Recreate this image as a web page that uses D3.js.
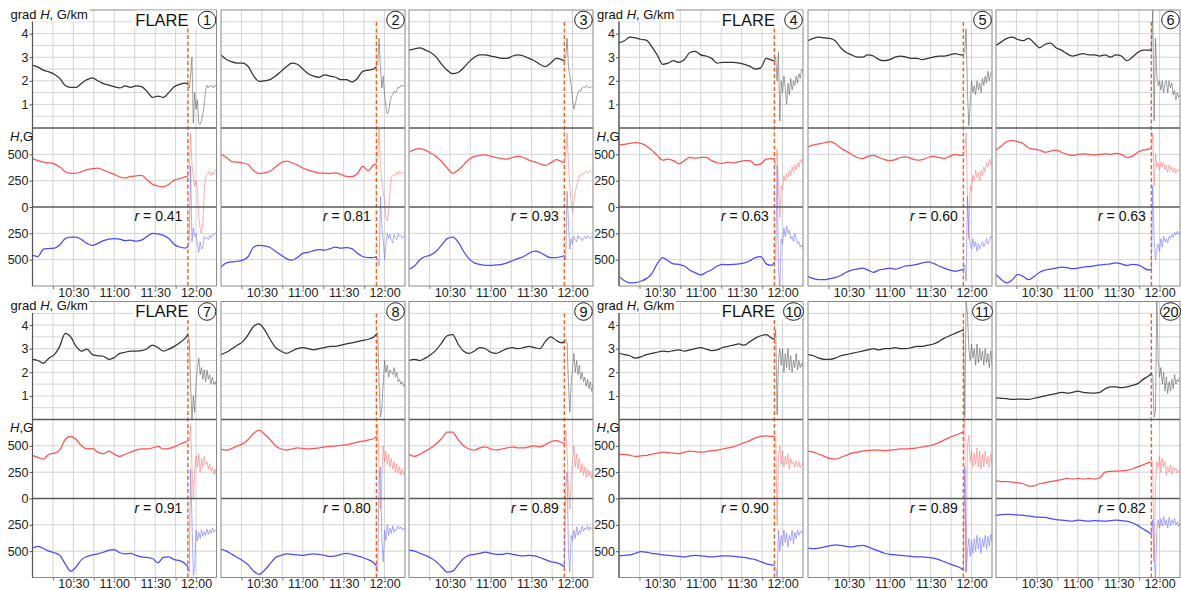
<!DOCTYPE html>
<html>
<head>
<meta charset="utf-8">
<script src="https://cdn.jsdelivr.net/npm/d3@7"></script>
<style>
  body { margin: 0; background: #fff; }
  svg { display: block; font-family: "Liberation Sans", Arial, sans-serif; }
</style>
</head>
<body>
<svg id="chart" width="1181" height="590"></svg>
<script>
// Sample times, minutes after 10:00 UT (4-min steps before the flare, 1-min after)
const minutes = [0,4,8,12,16,20,24,28,32,36,40,44,48,52,56,60,64,68,72,76,80,84,88,92,96,100,104,108,112,114,
                 115,116,117,118,119,120,121,122,123,124,125,126,127,128,129,130,131,132,133,134,135];
const flareIndex = 29;      // sample at the flare onset (11:54)
const flareMinute = 114;

const panelNumbers = ["1","2","3","4","5","6","7","8","9","10","11","20"];
const flareTagged  = ["1","4","7","10"];
const correlations = ["0.41","0.81","0.93","0.63","0.60","0.63","0.91","0.80","0.89","0.90","0.89","0.82"];

const timeTickMinutes = [30, 60, 90, 120];
const timeTickLabels  = ["10:30", "11:00", "11:30", "12:00"];
const gridMinutes     = [15, 30, 45, 60, 75, 90, 105, 120];
const gradTicks       = [1, 2, 3, 4];
const gradGrid        = [0.5, 1, 1.5, 2, 2.5, 3, 3.5, 4, 4.5];
const fieldTicks      = [500, 250, 0, -250, -500];
const fieldGrid       = [500, 250, -250, -500];

// grad H, G/km
const grad1 = [2.65,2.58,2.45,2.38,2.28,2.1,1.8,1.72,1.72,1.9,2.05,2.12,2.0,1.88,1.82,1.75,1.7,1.78,1.72,1.78,1.75,1.55,1.3,1.35,1.3,1.5,1.75,1.85,1.9,1.85,
               1.7,2.2,3.0,0.2,1.5,0.8,1.2,0.2,0.15,0.3,0.6,1.0,1.6,1.8,1.7,1.8,1.75,1.8,1.7,1.8,1.8];
const grad2 = [3.1,2.9,2.8,2.75,2.75,2.6,2.2,1.98,2.0,2.05,2.2,2.4,2.6,2.75,2.7,2.5,2.3,2.2,2.15,2.25,2.2,2.15,2.05,2.05,1.95,2.1,2.4,2.45,2.5,2.6,
               2.7,3.8,2.5,1.7,2.2,1.4,0.9,0.6,0.7,1.1,1.35,1.4,1.55,1.5,1.6,1.75,1.7,1.8,1.78,1.8,1.75];
const grad3 = [3.3,3.35,3.4,3.3,3.2,3.0,2.7,2.45,2.3,2.35,2.55,2.8,3.0,3.1,3.1,3.05,3.0,2.95,2.95,3.05,3.1,3.05,2.95,2.85,2.7,2.6,2.75,2.95,2.9,2.85,
               3.0,3.8,2.6,2.2,1.8,1.2,0.8,1.0,1.3,1.5,1.6,1.55,1.7,1.75,1.7,1.8,1.75,1.7,1.75,1.7,1.7];
const grad4 = [3.6,3.7,3.85,3.82,3.76,3.72,3.45,3.1,2.7,2.75,2.85,2.78,2.9,3.2,3.25,3.1,3.05,2.95,2.75,2.78,2.78,2.78,2.75,2.7,2.62,2.5,2.55,2.95,2.88,2.85,
               3.0,2.0,3.2,0.3,2.0,1.5,2.2,1.7,1.0,1.9,1.4,2.1,1.6,2.0,1.8,2.2,1.9,2.3,2.1,2.5,2.4];
const grad5 = [3.7,3.8,3.85,3.82,3.8,3.7,3.4,3.2,3.1,3.0,3.0,3.1,3.05,2.9,2.85,2.9,3.0,3.05,3.0,2.95,2.95,2.9,2.95,3.0,3.05,3.05,3.1,3.15,3.1,3.1,
               3.2,4.2,1.5,0.1,1.0,2.0,1.5,1.8,1.4,2.0,1.6,1.9,1.5,2.1,1.8,2.2,1.9,2.4,2.0,2.3,2.4];
const grad6 = [3.5,3.65,3.8,3.85,3.75,3.7,3.8,3.6,3.4,3.55,3.6,3.4,3.3,3.15,3.05,3.1,3.15,3.1,3.1,3.05,3.1,3.0,3.1,3.05,2.85,3.0,3.2,3.3,3.3,3.3,
               5.0,0.3,3.8,2.2,1.8,2.0,1.6,2.0,1.5,1.9,2.0,1.5,2.0,1.7,1.9,1.4,1.6,1.2,1.5,1.3,1.4];
const grad7 = [2.55,2.5,2.38,2.6,2.75,3.1,3.65,3.5,3.1,2.9,2.98,2.75,2.7,2.68,2.55,2.62,2.8,2.85,2.9,2.9,2.92,3.0,3.15,3.05,2.9,2.98,3.1,3.25,3.45,3.6,
               3.4,1.5,0.0,1.0,0.3,1.5,2.2,2.6,1.9,2.2,1.7,2.1,1.6,2.1,1.7,1.9,1.5,1.8,1.5,1.6,1.4];
const grad8 = [2.75,2.85,3.0,3.15,3.3,3.6,3.95,4.05,3.8,3.4,3.05,2.9,2.8,2.9,3.0,3.05,3.0,2.95,3.0,3.05,3.1,3.1,3.15,3.2,3.25,3.3,3.35,3.4,3.5,3.6,
               3.7,1.5,0.1,0.5,1.5,2.5,2.0,2.3,1.8,2.1,2.0,1.9,2.2,1.8,2.0,1.6,1.7,1.5,1.6,1.4,1.5];
const grad9 = [2.5,2.55,2.5,2.6,2.75,2.95,3.25,3.55,3.6,3.2,2.9,2.8,2.9,3.05,3.0,2.85,2.8,2.9,3.0,3.05,3.0,3.05,3.1,3.05,3.0,3.3,3.5,3.35,3.25,3.3,
               3.4,3.2,1.5,0.3,1.5,2.2,2.8,2.0,2.5,1.9,2.3,1.7,2.0,1.6,1.8,1.4,1.7,1.3,1.6,1.2,1.5];
const grad10 = [2.8,2.75,2.7,2.6,2.65,2.75,2.8,2.85,2.9,2.88,2.92,2.95,2.9,2.95,3.0,3.05,2.98,2.92,2.95,3.05,3.1,3.15,3.2,3.15,3.3,3.45,3.55,3.6,3.45,3.4,
                3.8,0.2,2.5,3.0,2.3,3.0,2.0,2.8,2.2,3.0,2.1,2.7,2.0,2.5,2.2,2.8,2.1,2.5,2.2,2.4,2.2];
const grad11 = [2.75,2.7,2.6,2.55,2.55,2.6,2.7,2.75,2.8,2.85,2.9,2.95,3.0,2.95,3.0,3.0,3.05,3.0,3.0,3.05,3.1,3.1,3.15,3.2,3.3,3.45,3.55,3.65,3.75,3.8,
                0.1,5.0,4.5,3.0,2.5,3.2,2.6,3.0,2.3,3.2,2.4,3.0,2.5,2.9,2.3,3.0,2.4,2.8,2.2,2.9,2.3];
const grad20 = [0.92,0.9,0.88,0.85,0.86,0.86,0.85,0.9,0.95,1.0,1.05,1.1,1.15,1.12,1.15,1.2,1.15,1.13,1.12,1.15,1.3,1.38,1.38,1.35,1.38,1.45,1.52,1.7,1.85,1.95,
                1.9,0.1,0.3,5.0,2.5,1.8,2.2,1.5,2.0,1.2,1.8,1.1,1.6,1.2,1.7,1.3,1.9,1.5,1.7,1.6,1.8];

// positive-polarity field H, G
const pos1 = [460,440,425,420,410,380,335,320,320,335,355,365,370,350,330,310,285,275,290,295,300,260,215,200,190,215,255,270,285,290,
              330,700,400,300,200,250,150,-100,-200,-250,-150,150,280,310,320,340,300,330,310,350,360];
const pos2 = [500,470,430,425,420,400,345,318,325,340,380,420,435,420,400,370,350,335,322,320,318,325,310,290,288,316,385,345,400,410,
              500,750,400,250,150,50,-100,-130,-50,150,280,300,310,300,330,310,340,320,330,320,330];
const pos3 = [520,545,555,540,510,480,430,370,320,350,400,450,480,490,495,480,470,460,455,470,480,470,445,430,410,395,420,450,430,420,
              500,700,400,200,50,-50,50,150,200,250,300,290,320,310,330,340,320,330,350,340,345];
const pos4 = [590,595,605,610,605,580,540,490,445,455,440,410,440,470,465,470,470,440,420,415,425,420,430,440,440,400,410,455,460,455,
              400,550,200,-100,200,170,300,250,320,280,350,300,380,330,400,350,420,380,450,420,470];
const pos5 = [570,590,600,610,620,600,560,530,500,470,460,480,490,470,450,440,450,470,475,460,445,450,470,480,470,460,480,500,490,495,
              520,700,100,-300,200,150,300,250,350,280,330,250,350,300,380,330,420,380,450,400,470];
const pos6 = [540,580,620,630,620,600,560,550,540,520,530,540,520,500,490,500,505,500,495,500,505,500,510,500,470,480,520,540,550,560,
              700,200,500,380,420,350,430,380,420,350,400,330,400,350,380,330,370,320,360,340,350];
const pos7 = [410,390,375,420,430,460,560,590,560,500,470,475,440,425,450,420,400,420,440,460,470,470,480,495,470,475,490,515,535,550,
              550,700,300,0,250,400,300,420,250,380,300,400,320,350,280,330,260,300,230,280,200];
const pos8 = [470,460,475,500,520,560,620,650,610,560,500,470,460,470,480,475,470,475,480,490,495,500,505,510,520,535,545,555,570,590,
              700,300,-100,200,500,350,450,320,420,300,380,280,350,250,330,240,300,220,280,230,250];
const pos9 = [420,400,420,450,480,520,570,630,630,560,500,470,460,480,490,470,460,470,480,490,480,480,490,500,490,510,540,550,530,520,
              650,450,100,-100,200,350,500,300,420,280,380,250,330,220,300,200,280,210,260,190,240];
const pos10 = [420,420,410,400,405,410,420,430,440,435,430,425,440,450,445,440,445,455,460,470,480,490,510,530,550,575,590,595,590,590,
               600,-250,400,500,320,450,300,400,330,420,280,380,330,350,300,360,300,350,290,330,320];
const pos11 = [450,440,420,400,380,375,390,410,430,440,450,455,460,460,455,460,465,470,470,475,480,490,500,510,530,555,580,600,620,630,
               750,-700,500,600,350,450,300,430,320,480,300,450,280,420,300,450,330,400,300,420,320];
const pos20 = [170,160,160,155,150,140,118,120,140,150,160,170,180,190,185,190,185,190,185,195,250,258,260,262,268,280,300,320,340,345,
               350,-600,100,350,300,400,250,380,300,350,220,300,250,320,230,300,260,290,240,270,260];

// negative-polarity field |H|, G
const neg1 = [460,470,400,395,390,360,300,285,285,310,345,365,345,320,305,300,305,320,315,325,315,280,250,255,270,300,355,380,390,380,
              330,-390,330,200,280,250,350,430,330,400,380,280,300,290,310,270,290,260,270,250,250];
const neg2 = [570,530,520,515,505,470,380,365,370,385,420,455,490,505,480,440,430,415,405,410,395,380,390,385,395,440,470,480,480,470,
              520,560,-100,200,300,500,350,250,300,260,320,340,260,290,310,250,280,270,300,280,290];
const neg3 = [590,560,500,470,455,420,360,300,285,330,420,490,530,545,555,555,550,545,530,510,490,470,440,420,430,460,480,480,470,460,
              500,-150,150,400,300,350,280,310,330,270,300,290,320,300,280,300,270,290,300,280,290];
const neg4 = [660,700,720,718,705,680,635,540,480,510,540,545,560,600,625,645,620,595,560,545,548,545,540,530,510,480,470,540,555,525,
              500,-400,600,750,300,350,200,280,180,250,220,300,280,330,250,300,350,330,380,360,400];
const neg5 = [660,680,690,690,680,670,650,620,600,590,580,600,620,600,590,580,590,575,560,555,545,530,520,535,560,580,600,610,600,590,
              550,700,-100,250,350,400,300,380,330,420,350,400,360,330,380,340,300,350,320,280,300];
const neg6 = [640,690,720,690,640,660,690,660,620,600,590,580,570,575,585,580,570,565,560,550,545,540,530,540,555,545,550,575,600,590,
              -200,300,500,400,350,420,300,380,280,330,300,340,280,300,260,290,240,270,230,260,240];
const neg7 = [470,455,475,500,515,540,620,690,650,580,550,535,525,510,490,485,515,525,520,540,555,560,570,610,560,555,580,590,620,650,
              700,-280,200,730,650,300,400,320,380,300,360,310,350,290,340,300,330,280,320,300,310];
const neg8 = [480,500,530,560,590,630,690,720,680,620,560,540,525,530,535,540,530,525,530,540,550,545,530,520,530,545,560,580,610,640,
              700,-200,-300,400,600,300,400,250,350,280,330,260,320,290,300,260,290,270,300,280,300];
const neg9 = [490,500,520,540,565,600,650,700,690,630,570,540,530,520,510,520,530,530,520,530,540,545,540,545,560,580,600,610,630,650,
              -100,-250,500,700,350,400,300,380,270,350,300,330,260,310,280,290,260,300,270,290,280];
const neg10 = [545,540,535,520,505,510,520,525,535,540,545,550,555,545,540,545,550,555,550,545,545,550,555,560,570,580,600,620,630,635,
               650,750,300,500,350,450,300,420,330,460,350,400,300,430,320,380,300,350,310,330,300];
const neg11 = [470,475,470,460,450,440,445,455,460,450,445,460,480,500,520,530,535,540,545,550,555,555,560,565,580,600,620,640,660,680,
               -300,700,500,380,550,400,520,380,500,350,480,370,520,380,460,350,480,360,450,340,420];
const neg20 = [160,152,150,152,155,160,165,175,178,180,190,200,205,210,215,205,210,215,210,212,215,210,205,210,215,230,255,290,320,340,
               200,600,750,300,200,280,190,260,170,250,200,280,180,260,200,240,190,250,220,260,230];

const gradSeries = [grad1,grad2,grad3,grad4,grad5,grad6,grad7,grad8,grad9,grad10,grad11,grad20];
const posSeries  = [pos1,pos2,pos3,pos4,pos5,pos6,pos7,pos8,pos9,pos10,pos11,pos20];
const negSeries  = [neg1,neg2,neg3,neg4,neg5,neg6,neg7,neg8,neg9,neg10,neg11,neg20];

// ---- layout ----
const panelLefts = [32.5, 221, 409, 619, 808, 996];
const rowTops = [10, 301.5];
const panelW = 184;
const gradH = 118;
const halfH = 79;
const totalH = gradH + 2 * halfH;

const svg = d3.select("#chart");
const fontAxis = 12.5;

const x = d3.scaleLinear().domain([0, 135]).range([0, panelW]);
const yG = d3.scaleLinear().domain([0, 5]).range([gradH, 0]);
const yH = d3.scaleLinear().domain([-750, 750]).range([totalH, gradH]);

function splitSeries(vals, sign) {
  const pts = minutes.map((m, i) => [m, sign * vals[i]]);
  return [pts.slice(0, flareIndex + 1), pts.slice(flareIndex)];
}

panelNumbers.forEach((num, p) => {
  const row = Math.floor(p / 6);
  const col = p % 6;
  const left = panelLefts[col];
  const top = rowTops[row];
  const g = svg.append("g").attr("transform", `translate(${left},${top})`);

  // clip regions
  const cg = `clipG${p}`, ch = `clipH${p}`;
  const defs = g.append("defs");
  defs.append("clipPath").attr("id", cg).append("rect")
    .attr("x", 0).attr("y", 0).attr("width", panelW).attr("height", gradH);
  defs.append("clipPath").attr("id", ch).append("rect")
    .attr("x", 0).attr("y", gradH).attr("width", panelW).attr("height", 2 * halfH);

  // grid
  const grid = g.append("g").attr("stroke", "#d4d4d4").attr("stroke-width", 1);
  gridMinutes.forEach(m => grid.append("line")
    .attr("x1", x(m)).attr("x2", x(m)).attr("y1", 0).attr("y2", totalH));
  gradGrid.forEach(v => grid.append("line")
    .attr("x1", 0).attr("x2", panelW).attr("y1", yG(v)).attr("y2", yG(v)));
  fieldGrid.forEach(v => grid.append("line")
    .attr("x1", 0).attr("x2", panelW).attr("y1", yH(v)).attr("y2", yH(v)));

  // flare onset marker
  g.append("line")
    .attr("x1", x(flareMinute)).attr("x2", x(flareMinute))
    .attr("y1", 12).attr("y2", totalH)
    .attr("stroke", "#ff5a14").attr("stroke-width", 1.4)
    .attr("stroke-dasharray", "4,2.5");

  const lineSmooth = d3.line().x(d => x(d[0])).y(d => d.yy).curve(d3.curveMonotoneX);
  const lineRaw = d3.line().x(d => x(d[0])).y(d => d.yy);

  function drawSeries(vals, sign, yScale, clip, colPre, colPost) {
    const [pre, post] = splitSeries(vals, sign);
    pre.forEach(d => d.yy = yScale(d[1]));
    post.forEach(d => d.yy = yScale(d[1]));
    const sg = g.append("g").attr("clip-path", `url(#${clip})`).attr("fill", "none");
    sg.append("path").attr("d", lineRaw(post))
      .attr("stroke", colPost).attr("stroke-width", 1).attr("stroke-opacity", 0.55);
    sg.append("path").attr("d", lineSmooth(pre))
      .attr("stroke", colPre).attr("stroke-width", 1.25);
  }

  drawSeries(posSeries[p], 1, yH, ch, "#ff5252", "#ff7070");
  drawSeries(negSeries[p], -1, yH, ch, "#4a4aff", "#6a6aff");
  drawSeries(gradSeries[p], 1, yG, cg, "#333333", "#555555");

  // separators and frame
  g.append("line").attr("x1", 0).attr("x2", panelW).attr("y1", gradH).attr("y2", gradH)
    .attr("stroke", "#5a5a5a").attr("stroke-width", 1.6);
  g.append("line").attr("x1", 0).attr("x2", panelW).attr("y1", yH(0)).attr("y2", yH(0))
    .attr("stroke", "#5a5a5a").attr("stroke-width", 1.6);
  g.append("rect").attr("x", 0).attr("y", 0).attr("width", panelW).attr("height", totalH)
    .attr("fill", "none").attr("stroke", "#8a8a8a").attr("stroke-width", 1);

  // time axis
  const xa = g.append("g").attr("transform", `translate(0,${totalH})`)
    .call(d3.axisBottom(x).tickValues(gridMinutes).tickSize(3)
      .tickFormat(m => { const k = timeTickMinutes.indexOf(m); return k >= 0 ? timeTickLabels[k] : ""; }));
  xa.select(".domain").remove();
  xa.selectAll("line").attr("stroke", "#777");
  xa.selectAll("text").attr("font-size", fontAxis).attr("fill", "#222")
    .attr("font-family", "Liberation Sans, Arial, sans-serif").attr("y", 2);

  // correlation label
  const rt = g.append("text")
    .attr("x", x(flareMinute) - 5.5).attr("y", yH(0) + 14)
    .attr("text-anchor", "end").attr("font-size", 14).attr("fill", "#111");
  rt.append("tspan").attr("font-style", "italic").text("r");
  rt.append("tspan").text(" = " + correlations[p]);

  // FLARE tag and panel number
  const flare = flareTagged.includes(num);
  if (flare) {
    g.append("rect").attr("x", panelW - 83).attr("y", 0.5).attr("width", 82.5).attr("height", 17)
      .attr("fill", "#fff");
    g.append("text").attr("x", panelW - 28).attr("y", 15.5).attr("text-anchor", "end")
      .attr("font-size", 16.5).attr("fill", "#111").text("FLARE");
  }
  const rx = num.length > 1 ? 10 : 8.8;
  g.append("ellipse").attr("cx", panelW - 9.5).attr("cy", 10).attr("rx", rx).attr("ry", 8.8)
    .attr("fill", "#fff").attr("stroke", "#222").attr("stroke-width", 1);
  g.append("text").attr("x", panelW - 9.5).attr("y", 15).attr("text-anchor", "middle")
    .attr("font-size", 14.5).attr("fill", "#111").text(num);

  // left axes for the first panel in each group
  if (col === 0 || col === 3) {
    const ga = g.append("g").call(d3.axisLeft(yG).tickValues(gradTicks).tickSize(3).tickPadding(1).tickFormat(d3.format("d")));
    const ha = g.append("g").call(d3.axisLeft(yH).tickValues(fieldTicks).tickSize(3).tickPadding(1)
      .tickFormat(d => String(Math.abs(d))));
    [ga, ha].forEach(a => {
      a.select(".domain").remove();
      a.selectAll("line").attr("stroke", "#555");
      a.selectAll("text").attr("font-size", 12.5).attr("fill", "#222")
        .attr("font-family", "Liberation Sans, Arial, sans-serif");
    });
    g.append("line").attr("x1", 0).attr("x2", 0).attr("y1", 0).attr("y2", totalH)
      .attr("stroke", "#555").attr("stroke-width", 1.2);

    // unit labels
    g.append("rect").attr("x", -23).attr("y", -2).attr("width", 80).attr("height", 13.5).attr("fill", "#fff");
    const t1 = g.append("text").attr("x", -22).attr("y", 8.5).attr("font-size", 13).attr("fill", "#111");
    t1.append("tspan").text("grad ");
    t1.append("tspan").attr("font-style", "italic").text("H");
    t1.append("tspan").text(", G/km");
    const t2 = g.append("text").attr("x", -22.5).attr("y", gradH + 12.5).attr("font-size", 13).attr("fill", "#111");
    t2.append("tspan").attr("font-style", "italic").text("H");
    t2.append("tspan").text(",G");
  }
});
</script>
</body>
</html>
